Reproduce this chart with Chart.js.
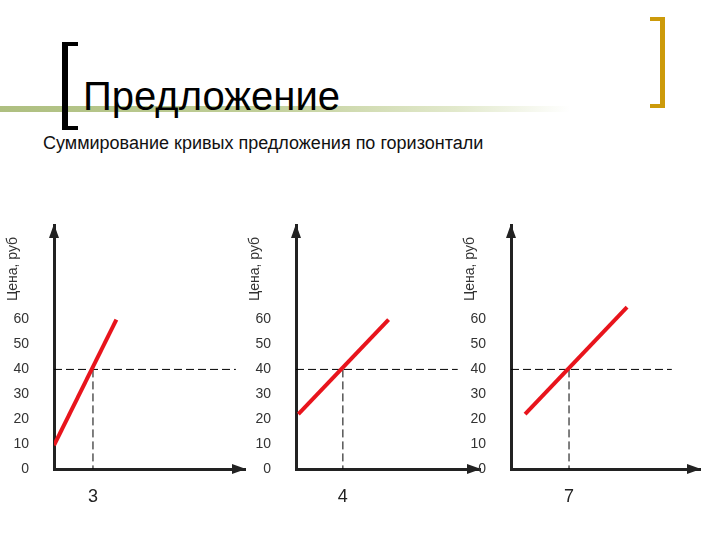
<!DOCTYPE html>
<html>
<head>
<meta charset="utf-8">
<script src="https://cdn.jsdelivr.net/npm/chart.js@4.4.1/dist/chart.umd.min.js"></script>
<style>
  body {
    margin: 0;
    width: 720px;
    height: 540px;
    position: relative;
    overflow: hidden;
    background: #fff;
    font-family: "Liberation Sans", Arial, sans-serif;
  }
  .band {
    position: absolute; left: 0; top: 106px; width: 570px; height: 6px;
    background: linear-gradient(to right, #aebf80 0%, #c0ce98 45%, #e2e9cc 80%, rgba(255,255,255,0) 100%);
  }
  .br-left {
    position: absolute; left: 62px; top: 42px; width: 10px; height: 80px;
    border-left: 6px solid #000; border-top: 4px solid #000; border-bottom: 4px solid #000;
  }
  .br-right {
    position: absolute; left: 650px; top: 17px; width: 10px; height: 83px;
    border-right: 5px solid #cc9a0a; border-top: 4px solid #cc9a0a; border-bottom: 4px solid #cc9a0a;
  }
  .title {
    position: absolute; left: 83px; top: 76px; font-size: 40px; line-height: 40px; color: #000;
  }
  .subtitle {
    position: absolute; left: 43px; top: 134px; font-size: 18px; line-height: 18px; color: #111;
  }
  canvas { position: absolute; top: 200px; }
</style>
</head>
<body>
<div class="band"></div>
<div class="br-left"></div>
<div class="br-right"></div>
<div class="title">Предложение</div>
<div class="subtitle">Суммирование кривых предложения по горизонтали</div>

<canvas id="c1" width="255" height="320" style="left:0px"></canvas>
<canvas id="c2" width="250" height="320" style="left:240px"></canvas>
<canvas id="c3" width="255" height="320" style="left:455px"></canvas>

<script>
const yTitle = 'Цена, руб';
const priceTicks = [0, 10, 20, 30, 40, 50, 60];
const eqPrice = 40;
const eqQuantity = [3, 4, 7];

// supply curves (quantity, price)
const supplyA = [{ x: 0, y: 9.5 }, { x: 4.8, y: 60 }];
const supplyB = [{ x: 0.2, y: 22 }, { x: 7.9, y: 60 }];
const supplySum = [{ x: 1.7, y: 22 }, { x: 14, y: 65 }];

const xMax = [14.7, 15.7, 22.8];
const guideEnd = [14, 13.8, 19.4];
const yMax = 98;

const axisDecor = {
    id: 'axisDecor',
    afterDraw(chart) {
        const { ctx, chartArea: a } = chart;
        ctx.save();
        ctx.fillStyle = '#222';
        // arrow on price axis
        ctx.beginPath();
        ctx.moveTo(a.left, a.top - 1);
        ctx.lineTo(a.left - 5, a.top + 13);
        ctx.lineTo(a.left + 5, a.top + 13);
        ctx.closePath();
        ctx.fill();
        // arrow on quantity axis
        ctx.beginPath();
        ctx.moveTo(a.right + 1, a.bottom);
        ctx.lineTo(a.right - 13, a.bottom - 5);
        ctx.lineTo(a.right - 13, a.bottom + 5);
        ctx.closePath();
        ctx.fill();
        // price axis title
        ctx.fillStyle = '#333';
        ctx.font = '14px "Liberation Sans", Arial, sans-serif';
        ctx.translate(a.left - 41, a.top + 44);
        ctx.rotate(-Math.PI / 2);
        ctx.textAlign = 'center';
        ctx.textBaseline = 'middle';
        ctx.fillText(yTitle, 0, 0);
        ctx.restore();
    }
};

function makeChart(id, i, supply, axisWidth) {
    new Chart(document.getElementById(id), {
        type: 'line',
        data: {
            datasets: [
                {
                    data: supply,
                    borderColor: '#e8141c',
                    borderWidth: 4,
                    pointRadius: 0,
                },
                {
                    data: [{ x: 0, y: eqPrice }, { x: guideEnd[i], y: eqPrice }],
                    borderColor: '#000',
                    borderWidth: 1,
                    borderDash: [8, 4],
                    pointRadius: 0,
                },
                {
                    data: [{ x: eqQuantity[i], y: eqPrice }, { x: eqQuantity[i], y: 0 }],
                    borderColor: '#000',
                    borderWidth: 1,
                    borderDash: [8, 4],
                    pointRadius: 0,
                },
            ],
        },
        options: {
            responsive: false,
            animation: false,
            layout: { padding: { top: 25, right: 10, left: 0, bottom: 0 } },
            plugins: { legend: { display: false }, tooltip: { enabled: false } },
            scales: {
                x: {
                    type: 'linear',
                    min: 0,
                    max: xMax[i],
                    grid: { display: false, drawTicks: false },
                    border: { color: '#222', width: 3 },
                    afterBuildTicks: (scale) => {
                        scale.ticks = [{ value: eqQuantity[i] }];
                    },
                    afterFit: (scale) => { scale.height = 51; },
                    ticks: {
                        padding: 17,
                        color: '#222',
                        font: { size: 18, family: '"Liberation Sans", Arial, sans-serif' },
                    },
                },
                y: {
                    type: 'linear',
                    min: 0,
                    max: yMax,
                    grid: { display: false, drawTicks: false },
                    border: { color: '#222', width: 3 },
                    afterBuildTicks: (scale) => {
                        scale.ticks = priceTicks.map((v) => ({ value: v }));
                    },
                    afterFit: (scale) => {
                        scale.width = axisWidth;
                        scale.paddingTop = 0;
                        scale.paddingBottom = 0;
                    },
                    ticks: {
                        padding: 25,
                        color: '#333',
                        font: { size: 14, family: '"Liberation Sans", Arial, sans-serif' },
                    },
                },
            },
        },
        plugins: [axisDecor],
    });
}

makeChart('c1', 0, supplyA, 54);
makeChart('c2', 1, supplyB, 56);
makeChart('c3', 2, supplySum, 56);
</script>
</body>
</html>
